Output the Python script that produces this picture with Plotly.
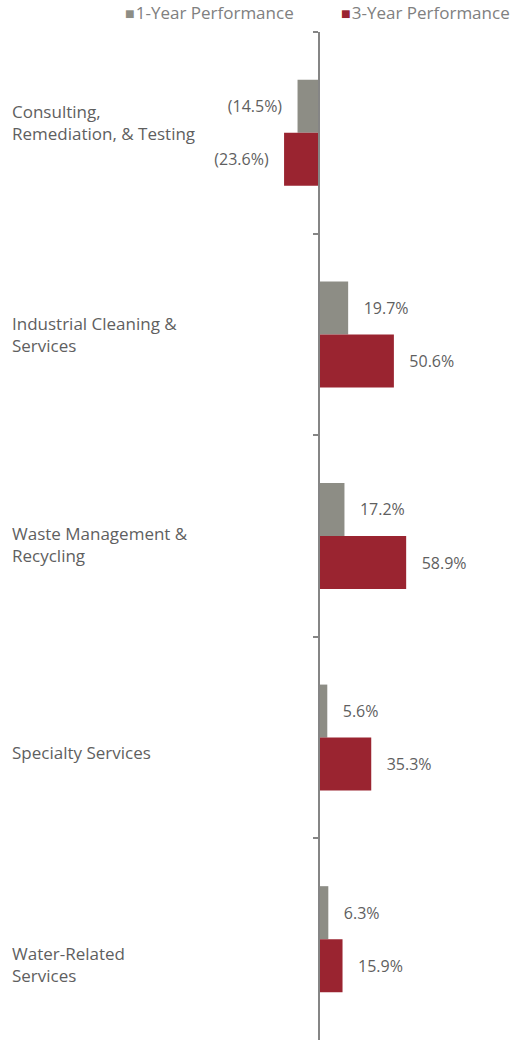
import plotly.graph_objects as go

categories = ["Consulting, Remediation, & Testing", "Industrial Cleaning & Services",
              "Waste Management & Recycling", "Specialty Services", "Water-Related Services"]
label_text = ["Consulting,<br>Remediation, & Testing", "Industrial Cleaning &<br>Services",
              "Waste Management &<br>Recycling", "Specialty Services", "Water-Related<br>Services"]
series_names = ["1-Year Performance", "3-Year Performance"]
one_year = [-14.5, 19.7, 17.2, 5.6, 6.3]
three_year = [-23.6, 50.6, 58.9, 35.3, 15.9]

def fmt(v):
    return f"({abs(v):.1f}%)   " if v < 0 else f"   {v:.1f}%"

W, H = 518, 1040
zero_px = 319
px_per_unit = 1.48
xmin = -zero_px / px_per_unit
xmax = (W - zero_px) / px_per_unit
top = 32
plot_h = H - top

font_family = "'Open Sans', sans-serif"
text_color = "#5f5f5f"
colors = ["#8D8D85", "#9A2430"]

fig = go.Figure()
for name, vals, col in zip(series_names, [one_year, three_year], colors):
    fig.add_trace(go.Bar(
        y=categories, x=vals, orientation="h", name=name,
        marker=dict(color=col, line=dict(width=0)), text=[fmt(v) for v in vals],
        textposition="outside", cliponaxis=False, hoverinfo="skip",
        textfont=dict(size=16, color=text_color, family=font_family),
    ))

label_shift = [10, 0, -8, -15, -25]
for cat, lab, s in zip(categories, label_text, label_shift):
    fig.add_annotation(x=0, xref="paper", xanchor="left", xshift=10,
                       y=cat, yref="y", yshift=s, text=lab, showarrow=False,
                       align="left", font=dict(size=17, color=text_color, family=font_family))

# legend drawn as text annotations
legend_x = [123, 339]
for name, col, lx in zip(series_names, colors, legend_x):
    fig.add_annotation(x=lx / W, xref="paper", xanchor="left",
                       y=1 + (top - 12) / plot_h, yref="paper", yanchor="middle",
                       text=(f"<span style='color:{col};font-size:16px'>■</span>"
                             f"<span style='font-size:4px'>&nbsp;</span>{name}"),
                       showarrow=False, font=dict(size=17, color="#808080", family=font_family))

fig.update_layout(
    width=W, height=H, margin=dict(l=0, r=0, t=top, b=0, autoexpand=False),
    paper_bgcolor="white", plot_bgcolor="white",
    barmode="group", bargap=0.474, bargroupgap=0,
    font=dict(family=font_family, color=text_color),
    showlegend=False,
    xaxis=dict(range=[xmin, xmax], visible=False, fixedrange=True),
    yaxis=dict(autorange="reversed", showticklabels=False, showgrid=False,
               zeroline=False, showline=True, linecolor="#858585", linewidth=2,
               ticks="outside", ticklen=5, tickcolor="#858585", tickwidth=2,
               tickson="boundaries", anchor="free", position=zero_px / W,
               fixedrange=True),
)

fig.write_html("out.html", config={"displayModeBar": False},
               post_script="document.body.style.margin='0';")
